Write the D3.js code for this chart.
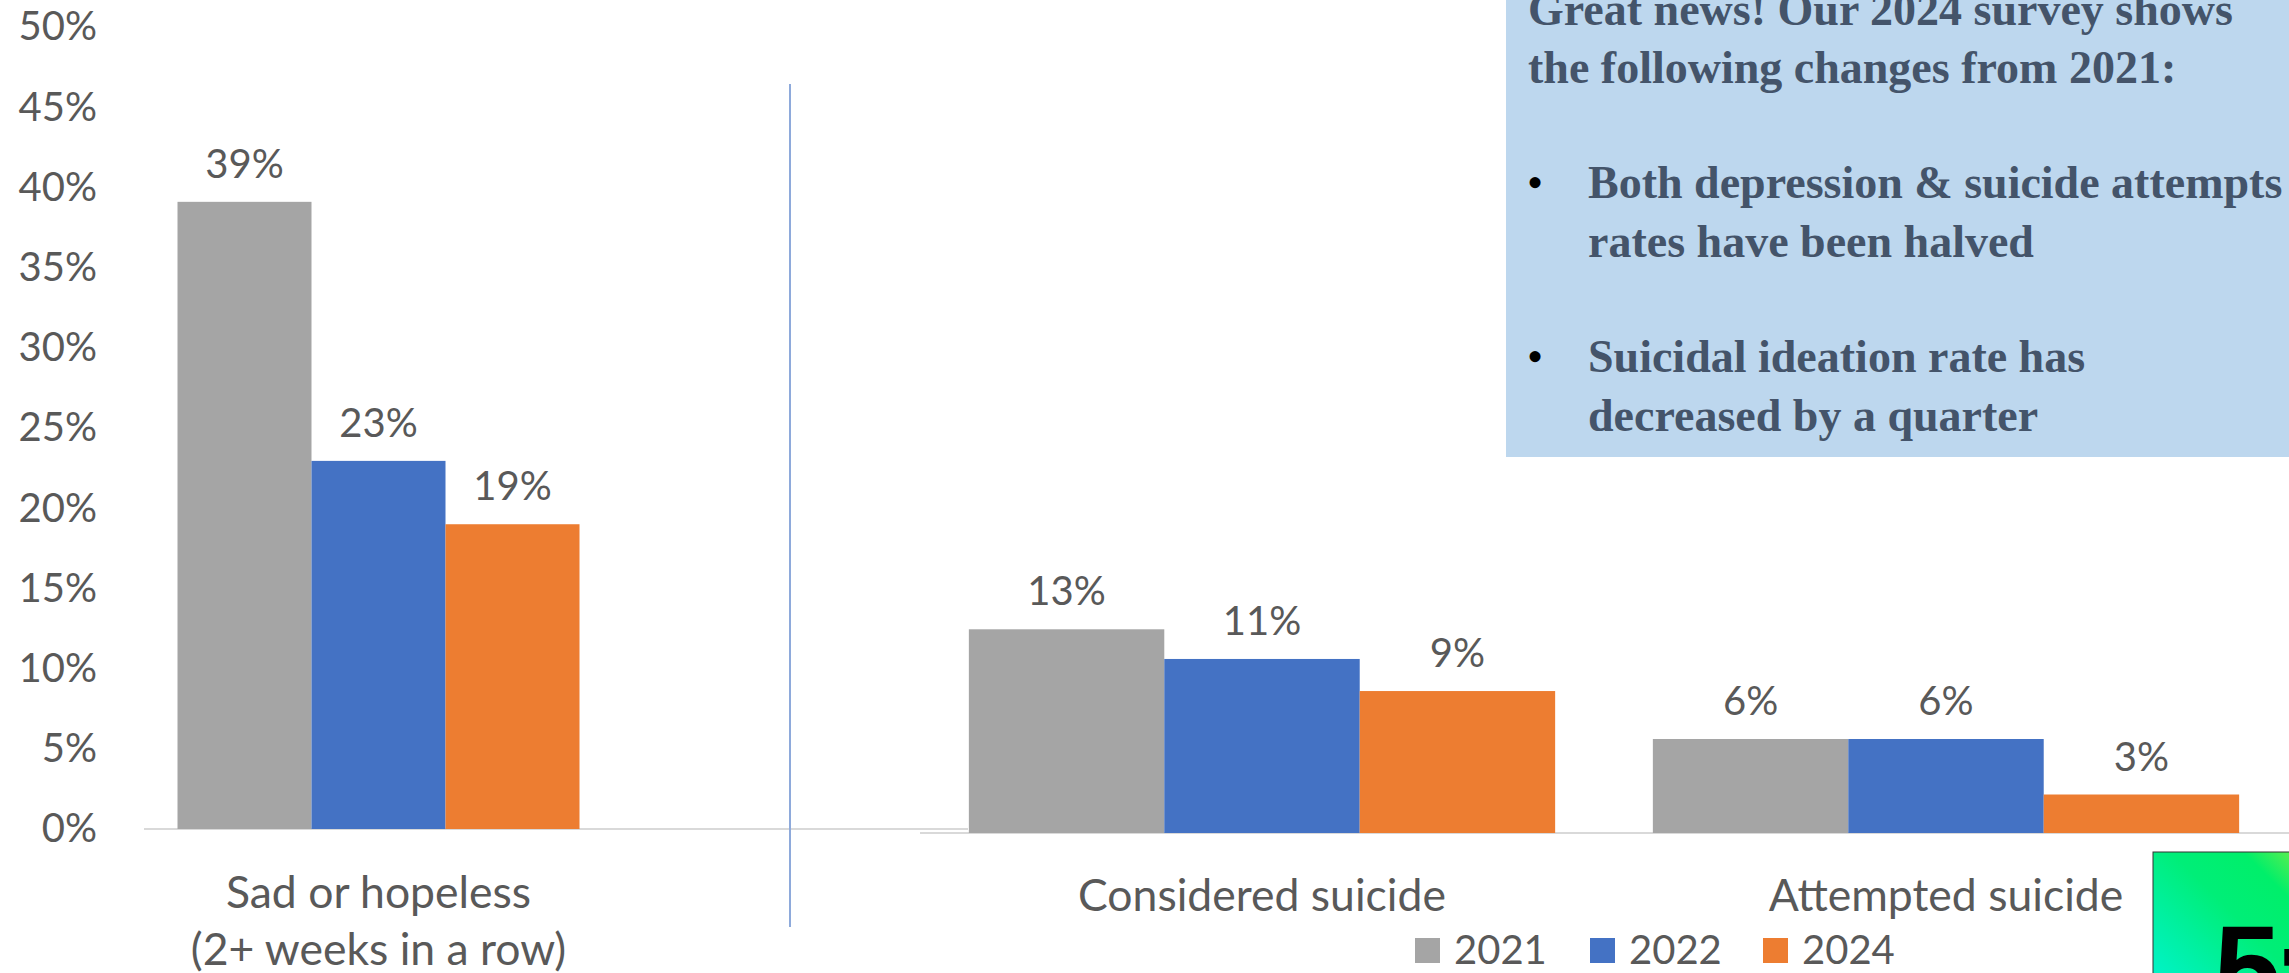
<!DOCTYPE html>
<html>
<head>
<meta charset="utf-8">
<script src="https://cdn.jsdelivr.net/npm/d3@7"></script>
<style>
  html, body { margin: 0; padding: 0; background: #ffffff; overflow: hidden; }
  svg { display: block; }
</style>
</head>
<body>
<script>
// ---------- data ----------
const years = ["2021", "2022", "2024"];
const categories = ["Sad or hopeless|(2+ weeks in a row)", "Considered suicide", "Attempted suicide"];
const values2021 = [39.1, 12.7, 5.86];
const values2022 = [22.95, 10.85, 5.86];
const values2024 = [19.0, 8.85, 2.4];
const labels2021 = ["39%", "13%", "6%"];
const labels2022 = ["23%", "11%", "6%"];
const labels2024 = ["19%", "9%", "3%"];
const yTicks = [0, 5, 10, 15, 20, 25, 30, 35, 40, 45, 50];
const colors = ["#a5a5a5", "#4472c4", "#ed7d31"];
const noteHeader = ["Great news! Our 2024 survey shows", "the following changes from 2021:"];
const noteBullets = [
  ["Both depression & suicide attempts", "rates have been halved"],
  ["Suicidal ideation rate has", "decreased by a quarter"]
];

const seriesValues = [values2021, values2022, values2024];
const seriesLabels = [labels2021, labels2022, labels2024];

// ---------- layout ----------
const W = 2289, H = 973;
const FONT = "Lato, 'Open Sans', sans-serif";
const TXT = "#595959";
const FS = 40;
const CFS = 44.5;

const svg = d3.select("body").append("svg").attr("width", W).attr("height", H);

const panels = [
  { cats: [0], x0: 144, x1: 613, base: 829, lineX0: 144, lineX1: 968 },
  { cats: [1, 2], x0: 920, x1: 2288, base: 833, lineX0: 920, lineX1: W }
];
const pxPerPct = 16.04;

panels.forEach((p, pi) => {
  const y = d3.scaleLinear().domain([0, 50]).range([p.base, p.base - 50 * pxPerPct]);
  const x0 = d3.scaleBand().domain(p.cats).range([p.x0, p.x1])
    .paddingInner(1 / 7).paddingOuter(1 / 14);
  const x1 = d3.scaleBand().domain(years).range([0, x0.bandwidth()]).padding(0);

  const g = svg.append("g");

  // baseline
  g.append("line")
    .attr("x1", p.lineX0).attr("x2", p.lineX1)
    .attr("y1", y(0)).attr("y2", y(0))
    .attr("stroke", "#d9d9d9").attr("stroke-width", 2);

  // y axis (left panel only)
  if (pi === 0) {
    const ax = svg.append("g").attr("transform", "translate(97,0)")
      .call(d3.axisLeft(y).tickValues(yTicks).tickFormat(d => d + "%").tickSize(0).tickPadding(0));
    ax.select(".domain").remove();
    ax.selectAll("text").attr("font-family", FONT).attr("font-size", FS).attr("fill", TXT);
  }

  p.cats.forEach(ci => {
    const cg = g.append("g").attr("transform", `translate(${x0(ci)},0)`);
    years.forEach((yr, si) => {
      const v = seriesValues[si][ci];
      cg.append("rect")
        .attr("x", x1(yr)).attr("width", x1.bandwidth())
        .attr("y", y(v)).attr("height", y(0) - y(v))
        .attr("fill", colors[si]);
      cg.append("text")
        .attr("x", x1(yr) + x1.bandwidth() / 2)
        .attr("y", y(v) - 24)
        .attr("text-anchor", "middle")
        .attr("font-family", FONT).attr("font-size", FS).attr("fill", TXT)
        .text(seriesLabels[si][ci]);
    });
    // category label
    const lines = categories[ci].split("|");
    const cx = x0(ci) + x0.bandwidth() / 2;
    lines.forEach((ln, li) => {
      g.append("text")
        .attr("x", cx)
        .attr("y", (pi === 0 ? 908 : 911) + li * 57)
        .attr("text-anchor", "middle")
        .attr("font-family", FONT).attr("font-size", CFS).attr("fill", TXT)
        .text(ln);
    });
  });
});

// divider
svg.append("line")
  .attr("x1", 790).attr("x2", 790).attr("y1", 84).attr("y2", 927)
  .attr("stroke", "#8eaadb").attr("stroke-width", 2);

// legend
const legendX = [1415, 1590, 1763];
years.forEach((yr, i) => {
  svg.append("rect").attr("x", legendX[i]).attr("y", 938).attr("width", 25).attr("height", 25)
    .attr("fill", colors[i]);
  svg.append("text").attr("x", legendX[i] + 39).attr("y", 964)
    .attr("font-family", FONT).attr("font-size", FS).attr("fill", TXT).text(yr);
});

// note box
svg.append("rect").attr("x", 1506).attr("y", -10).attr("width", 900).attr("height", 467)
  .attr("fill", "#bdd7ee");
const NFONT = "'Liberation Serif', 'DejaVu Serif', serif";
const NCOL = "#44546a";
const NFS = 46;
noteHeader.forEach((t, i) => {
  svg.append("text").attr("x", 1528).attr("y", 25 + i * 58)
    .attr("font-family", NFONT).attr("font-weight", "bold").attr("font-size", NFS)
    .attr("fill", NCOL).text(t);
});
const bulletY = [198, 372];
noteBullets.forEach((b, bi) => {
  svg.append("text").attr("x", 1527).attr("y", bulletY[bi])
    .attr("font-family", NFONT).attr("font-size", NFS).attr("fill", "#000").text("•");
  b.forEach((t, li) => {
    svg.append("text").attr("x", 1588).attr("y", bulletY[bi] + li * 59)
      .attr("font-family", NFONT).attr("font-weight", "bold").attr("font-size", NFS)
      .attr("fill", NCOL).text(t);
  });
});

// corner logo (partially visible)
const defs = svg.append("defs");
const grad = defs.append("linearGradient").attr("id", "lg")
  .attr("x1", "0%").attr("y1", "100%").attr("x2", "100%").attr("y2", "0%");
grad.append("stop").attr("offset", "0%").attr("stop-color", "#00f5e8");
grad.append("stop").attr("offset", "55%").attr("stop-color", "#00ee78");
grad.append("stop").attr("offset", "75%").attr("stop-color", "#00ef6a");
grad.append("stop").attr("offset", "100%").attr("stop-color", "#a6ec3a");
svg.append("rect").attr("x", 2153).attr("y", 852).attr("width", 180).attr("height", 180)
  .attr("fill", "url(#lg)").attr("stroke", "#333").attr("stroke-width", 1);
svg.append("text").attr("x", 2214).attr("y", 1010)
  .attr("font-family", "'Liberation Sans', Arial, sans-serif").attr("font-weight", "bold")
  .attr("font-size", 120).attr("letter-spacing", -8).attr("fill", "#000").text("5:");
</script>
</body>
</html>
